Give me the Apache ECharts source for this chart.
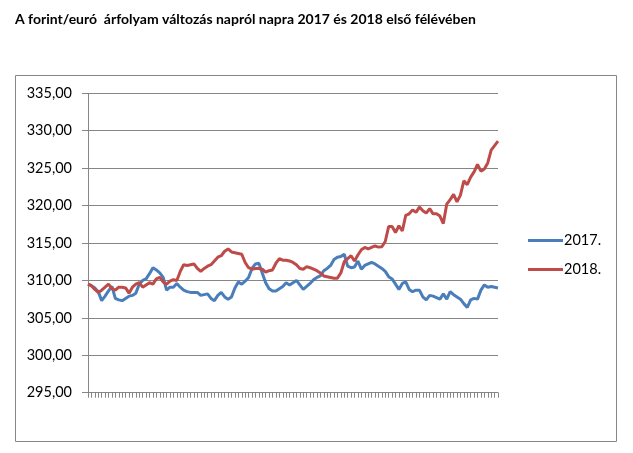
<!DOCTYPE html>
<html>
<head>
<meta charset="utf-8">
<script src="https://cdn.jsdelivr.net/npm/echarts@6/dist/echarts.min.js"></script>
<style>
html,body{margin:0;padding:0;background:#fff;}
#chart{width:633px;height:453px;}
</style>
</head>
<body>
<div id="chart"></div>
<script>
var titleText = 'A forint/euró  árfolyam változás napról napra 2017 és 2018 első félévében';
var seriesNames = ['2017.', '2018.'];
var yTicks = [295, 300, 305, 310, 315, 320, 325, 330, 335];
var yTickLabels = ['295,00', '300,00', '305,00', '310,00', '315,00', '320,00', '325,00', '330,00', '335,00'];

var values2017 = [
  309.5, 309.3, 309.0, 308.5, 307.3, 307.9, 308.6, 309.2, 307.6, 307.4,
  307.3, 307.6, 307.9, 308.0, 308.3, 309.5, 310.0, 310.2, 310.9, 311.7,
  311.4, 311.0, 310.4, 308.7, 309.1, 309.1, 309.6, 309.1, 308.7, 308.5,
  308.4, 308.4, 308.4, 308.0, 308.1, 308.2, 307.6, 307.3, 308.0, 308.4,
  307.8, 307.5, 307.8, 309.0, 309.8, 309.5, 309.9, 310.4, 311.6, 312.2,
  312.3, 311.0, 309.7, 308.9, 308.6, 308.6, 308.9, 309.2, 309.7, 309.4,
  309.7, 310.0, 309.4, 308.8, 309.2, 309.6, 310.1, 310.4, 310.6, 311.3,
  311.6, 312.0, 312.8, 313.1, 313.2, 313.5, 311.9, 311.7, 311.8, 312.6,
  311.5, 312.0, 312.2, 312.4, 312.2, 311.9, 311.6, 311.2, 310.5, 310.2,
  309.5, 308.8, 309.6, 309.8, 308.8, 308.5, 308.7, 308.7, 307.8, 307.4,
  308.0, 307.9, 307.7, 307.5, 308.2, 307.5, 308.5, 308.1, 307.8, 307.5,
  306.9, 306.4, 307.4, 307.6, 307.5, 308.7, 309.4, 309.1, 309.2, 309.1,
  309.0
];

var values2018 = [
  309.5, 309.3, 308.8, 308.4, 308.7, 309.1, 309.5, 308.9, 308.7, 309.1,
  309.1, 309.0, 308.3, 309.1, 309.5, 309.7, 309.1, 309.4, 309.7, 309.5,
  310.2, 310.4, 309.8, 309.5, 309.9, 310.1, 310.0, 311.2, 312.1, 312.0,
  312.1, 312.2, 311.6, 311.2, 311.6, 311.9, 312.1, 312.6, 313.1, 313.3,
  313.9, 314.2, 313.8, 313.7, 313.6, 313.5, 312.4, 311.7, 311.5, 311.6,
  311.6, 311.5, 311.1, 311.3, 311.4, 312.3, 312.9, 312.7, 312.7, 312.6,
  312.4, 312.1, 311.6, 311.5, 311.85, 311.7, 311.5, 311.3, 311.0, 310.6,
  310.5, 310.4, 310.3, 310.3, 311.0, 312.5, 312.9, 313.3, 312.6, 313.4,
  314.1, 314.4, 314.2, 314.4, 314.6, 314.45, 314.5, 315.2, 317.2, 317.2,
  316.4, 317.3, 316.6, 318.7, 318.9, 319.4, 319.1, 319.8, 319.3, 319.0,
  319.6, 318.9, 318.9, 318.6, 317.6, 320.2, 320.8, 321.5, 320.5, 321.4,
  323.3, 322.8, 323.8, 324.5, 325.5, 324.6, 324.9, 325.7, 327.4, 328.0,
  328.6
];

var categories = values2017.map(function (v, i) { return String(i + 1); });

var FONT = 'Lato';
var chart = echarts.init(document.getElementById('chart'));
chart.setOption({
  backgroundColor: '#ffffff',
  animation: false,
  title: {
    text: titleText,
    left: 10,
    top: 7,
    textStyle: { fontFamily: FONT, fontSize: 14, fontWeight: 'bold', color: '#000' }
  },
  graphic: [{
    type: 'rect',
    shape: { x: 15.5, y: 75.5, width: 601, height: 366 },
    style: { fill: 'none', stroke: '#868686', lineWidth: 1 },
    silent: true,
    z: -1
  }],
  legend: {
    orient: 'vertical',
    left: 523,
    top: 228,
    itemWidth: 35,
    itemHeight: 3,
    itemGap: 14,
    icon: 'rect',
    textStyle: { fontFamily: FONT, fontSize: 14.5, color: '#000', padding: [0, 0, 0, -4] },
    data: seriesNames
  },
  grid: { left: 88, right: 135, top: 93.3, bottom: 60.3, containLabel: false },
  xAxis: {
    type: 'category',
    data: categories,
    boundaryGap: false,
    axisLine: { lineStyle: { color: '#868686', width: 1 } },
    axisTick: { show: true, interval: 0, length: 5, lineStyle: { color: '#868686' } },
    axisLabel: { show: false },
    splitLine: { show: false }
  },
  yAxis: {
    type: 'value',
    min: yTicks[0],
    max: yTicks[yTicks.length - 1],
    interval: 5,
    axisLine: { show: true, lineStyle: { color: '#868686', width: 1 } },
    axisTick: { show: true, length: 6, lineStyle: { color: '#868686' } },
    axisLabel: {
      margin: 16,
      fontFamily: FONT, fontSize: 14.5, color: '#000',
      formatter: function (v) { var k = yTicks.indexOf(v); return k >= 0 ? yTickLabels[k] : ''; }
    },
    splitLine: { show: true, lineStyle: { color: '#868686', width: 1 } }
  },
  series: [
    {
      name: seriesNames[0], type: 'line', data: values2017,
      showSymbol: false, symbol: 'none',
      lineStyle: { color: '#4a7ebb', width: 3 }, itemStyle: { color: '#4a7ebb' }
    },
    {
      name: seriesNames[1], type: 'line', data: values2018,
      showSymbol: false, symbol: 'none',
      lineStyle: { color: '#be4b48', width: 3 }, itemStyle: { color: '#be4b48' }
    }
  ]
});
</script>
</body>
</html>
